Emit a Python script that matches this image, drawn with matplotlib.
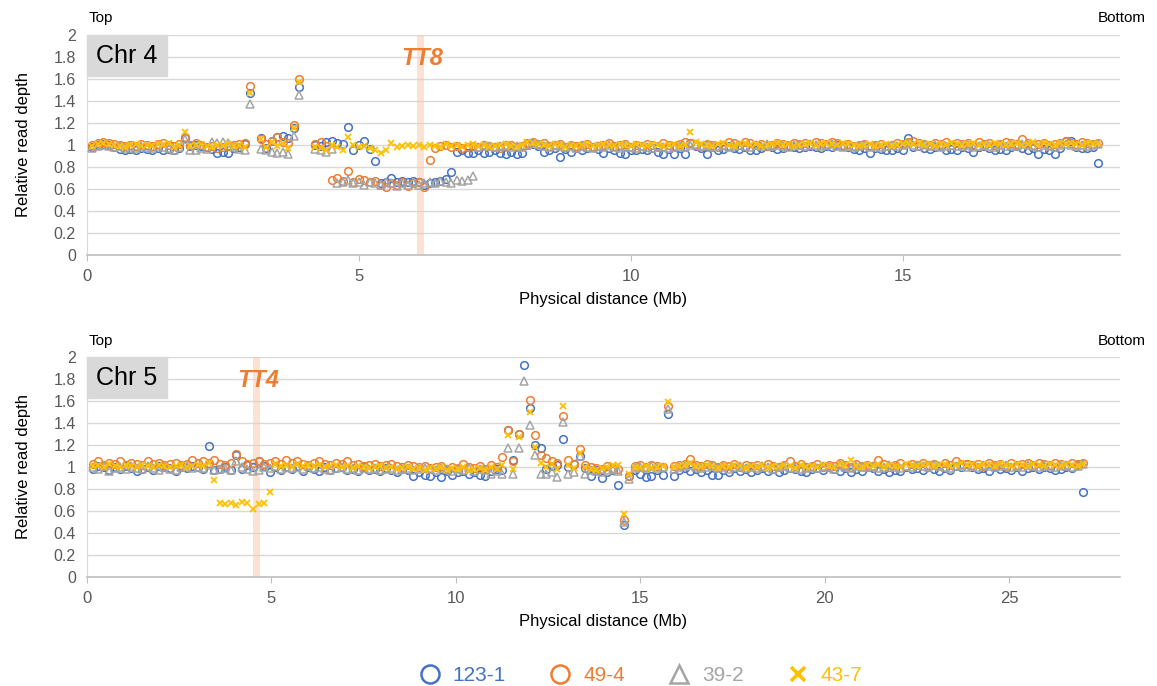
#imports
import matplotlib.pyplot as plt
import numpy as np
from matplotlib.lines import Line2D
from matplotlib.patches import Rectangle

plt.rcParams['font.family'] = ['Liberation Sans', 'DejaVu Sans']

#sample names and Excel style colours
names = ['123-1', '49-4', '39-2', '43-7']
colors = ['#4472C4', '#ED7D31', '#A5A5A5', '#FFC000']
markers = ['o', 'o', '^', 'x']

#---------------- Chr 4 (bin positions in Mb) ----------------
chr4_pos = [0.1, 0.2, 0.3, 0.4, 0.5, 0.6, 0.7, 0.8, 0.9, 1.0,
            1.1, 1.2, 1.3, 1.4, 1.5, 1.6, 1.7, 1.8, 1.9, 2.0,
            2.1, 2.2, 2.3, 2.4, 2.5, 2.6, 2.7, 2.8, 2.9, 3.0,
            3.1, 3.2, 3.3, 3.4, 3.5, 3.6, 3.7, 3.8, 3.9, 4.0,
            4.1, 4.2, 4.3, 4.4, 4.5, 4.6, 4.7, 4.8, 4.9, 5.0,
            5.1, 5.2, 5.3, 5.4, 5.5, 5.6, 5.7, 5.8, 5.9, 6.0,
            6.1, 6.2, 6.3, 6.4, 6.5, 6.6, 6.7, 6.8, 6.9, 7.0,
            7.1, 7.2, 7.3, 7.4, 7.5, 7.6, 7.7, 7.8, 7.9, 8.0,
            8.1, 8.2, 8.3, 8.4, 8.5, 8.6, 8.7, 8.8, 8.9, 9.0,
            9.1, 9.2, 9.3, 9.4, 9.5, 9.6, 9.7, 9.8, 9.9, 10.0,
            10.1, 10.2, 10.3, 10.4, 10.5, 10.6, 10.7, 10.8, 10.9, 11.0,
            11.1, 11.2, 11.3, 11.4, 11.5, 11.6, 11.7, 11.8, 11.9, 12.0,
            12.1, 12.2, 12.3, 12.4, 12.5, 12.6, 12.7, 12.8, 12.9, 13.0,
            13.1, 13.2, 13.3, 13.4, 13.5, 13.6, 13.7, 13.8, 13.9, 14.0,
            14.1, 14.2, 14.3, 14.4, 14.5, 14.6, 14.7, 14.8, 14.9, 15.0,
            15.1, 15.2, 15.3, 15.4, 15.5, 15.6, 15.7, 15.8, 15.9, 16.0,
            16.1, 16.2, 16.3, 16.4, 16.5, 16.6, 16.7, 16.8, 16.9, 17.0,
            17.1, 17.2, 17.3, 17.4, 17.5, 17.6, 17.7, 17.8, 17.9, 18.0,
            18.1, 18.2, 18.3, 18.4, 18.5, 18.6]

chr4_123_1 = [0.98, 1.00, 1.01, 1.00, 0.98, 0.96, 0.95, 0.96, 0.95, 0.97,
              0.96, 0.95, 0.97, 0.95, 0.96, 0.95, 0.97, 1.06, 0.99, 1.00,
              0.99, 0.98, 0.96, 0.93, 0.94, 0.93, 0.97, 0.98, 1.01, 1.47,
              None, 1.06, 0.97, 1.04, 1.07, 1.08, 1.06, 1.15, 1.53, None,
              None, 1.00, 0.99, 1.03, 1.04, 1.02, 1.01, 1.16, 0.95, 1.00,
              1.04, 0.96, 0.85, 0.65, 0.66, 0.70, 0.66, 0.67, 0.66, 0.67,
              0.66, 0.64, 0.65, 0.66, 0.67, 0.69, 0.75, 0.94, 0.95, 0.93,
              0.93, 0.95, 0.93, 0.94, 0.95, 0.93, 0.92, 0.94, 0.92, 0.93,
              1.00, 1.01, 0.99, 0.94, 0.95, 0.97, 0.89, 0.96, 0.94, 0.97,
              0.95, 0.97, 0.98, 0.96, 0.93, 0.97, 0.95, 0.93, 0.92, 0.95,
              0.95, 0.96, 0.95, 0.97, 0.94, 0.92, 0.96, 0.92, 0.97, 0.92,
              1.02, 0.99, 0.97, 0.92, 0.98, 0.95, 0.96, 0.99, 0.97, 0.96,
              0.98, 0.95, 0.95, 0.97, 0.99, 0.98, 0.96, 0.97, 0.99, 0.98,
              0.97, 0.98, 0.99, 0.98, 0.97, 0.99, 0.98, 1.00, 0.99, 0.98,
              0.96, 0.95, 0.97, 0.93, 0.97, 0.96, 0.95, 0.95, 0.97, 0.95,
              1.06, 0.98, 0.99, 0.97, 0.96, 0.98, 0.99, 0.95, 0.96, 0.95,
              0.98, 0.97, 0.94, 0.98, 0.99, 0.97, 0.95, 0.96, 0.95, 0.98,
              0.99, 0.97, 0.95, 0.97, 0.92, 0.96, 0.95, 0.92, 0.97, 1.04,
              1.04, 0.98, 0.97, 0.97, 0.98, 0.84]

chr4_49_4 = [1.00, 1.02, 1.03, 1.02, 1.01, 1.00, 0.99, 1.00, 0.99, 1.01,
             1.00, 0.99, 1.01, 1.02, 1.00, 0.99, 1.01, 1.07, 1.00, 1.02,
             1.00, 0.98, 0.99, 0.97, 0.98, 0.99, 1.00, 1.01, 1.02, 1.54,
             None, 1.05, 1.01, 1.04, 1.07, 1.03, 1.02, 1.18, 1.60, None,
             None, 1.01, 1.03, 0.99, 0.68, 0.70, 0.67, 0.76, 0.66, 0.69,
             0.68, 0.66, 0.67, 0.64, 0.62, 0.65, 0.64, 0.66, 0.63, 0.65,
             0.66, 0.62, 0.86, 0.97, 0.99, 1.00, 0.98, 0.99, 0.97, 0.98,
             0.99, 0.98, 1.00, 0.99, 0.98, 0.97, 0.99, 1.00, 0.98, 0.99,
             1.02, 1.03, 1.01, 1.02, 0.99, 1.00, 1.01, 0.98, 1.00, 0.99,
             1.00, 1.01, 0.98, 0.99, 1.00, 1.02, 0.99, 1.00, 1.01, 0.98,
             1.00, 0.99, 1.01, 1.00, 0.98, 1.02, 1.00, 0.99, 1.01, 1.03,
             1.02, 1.00, 0.99, 1.01, 1.00, 0.98, 1.00, 1.03, 1.02, 1.00,
             1.03, 1.02, 1.00, 1.01, 0.99, 1.00, 1.02, 1.01, 1.00, 1.02,
             1.01, 1.02, 1.00, 1.03, 1.02, 1.01, 1.03, 1.02, 1.00, 1.01,
             0.99, 1.00, 1.01, 0.99, 1.00, 1.01, 0.99, 1.00, 1.02, 1.01,
             1.03, 1.04, 1.02, 1.01, 1.00, 1.02, 1.01, 1.03, 1.00, 1.02,
             1.01, 1.02, 1.00, 1.03, 1.01, 1.02, 1.00, 1.01, 1.03, 1.02,
             1.01, 1.05, 1.02, 1.00, 1.01, 1.02, 1.00, 1.01, 1.02, 1.04,
             1.02, 1.01, 1.03, 1.02, 1.01, 1.02]

chr4_39_2 = [0.97, 0.99, 1.00, 0.99, 0.98, 0.99, 0.97, 0.98, 0.97, 0.99,
             0.98, 0.97, 0.99, 0.98, 0.97, 0.95, 0.98, 1.05, 0.95, 0.95,
             0.97, 0.96, 1.03, 1.02, 1.03, 1.02, 0.98, 0.96, 0.95, 1.37,
             None, 0.96, 0.95, 0.94, 0.93, 0.94, 0.92, 1.08, 1.45, None,
             None, 0.96, 0.95, 0.94, 0.96, 0.65, 0.66, 0.68, 0.65, 0.66,
             0.64, 0.66, 0.65, 0.64, 0.66, 0.65, 0.63, 0.65, 0.64, 0.66,
             0.64, 0.65, 0.66, 0.65, 0.67, 0.66, 0.65, 0.68, 0.67, 0.68,
             0.72, 0.98, 1.00, 0.99, 0.98, 0.99, 1.00, 0.98, 0.99, 0.98,
             1.00, 1.02, 1.01, 0.99, 0.98, 1.00, 0.99, 0.98, 0.99, 0.97,
             0.99, 0.98, 0.97, 0.99, 0.98, 1.00, 0.98, 0.97, 0.99, 0.98,
             0.97, 0.99, 0.98, 0.97, 0.99, 0.98, 0.97, 0.98, 0.99, 0.98,
             1.00, 1.01, 0.99, 1.00, 0.98, 0.99, 1.00, 0.98, 0.99, 1.00,
             0.99, 0.98, 1.00, 0.99, 1.01, 0.99, 1.00, 0.99, 0.98, 1.00,
             1.00, 0.99, 1.01, 1.00, 0.99, 1.00, 1.01, 0.99, 0.98, 0.99,
             0.98, 0.99, 1.00, 0.98, 0.99, 0.98, 0.99, 1.00, 0.99, 1.00,
             1.02, 1.00, 0.99, 1.01, 0.99, 1.00, 0.98, 0.99, 1.00, 0.99,
             0.99, 1.00, 0.98, 0.99, 1.00, 0.99, 0.98, 1.00, 0.99, 1.00,
             0.99, 1.01, 1.00, 0.99, 0.98, 1.00, 0.99, 0.98, 1.00, 1.01,
             1.00, 0.99, 1.00, 0.99, 1.00, 1.01]

chr4_43_7 = [0.99, 1.01, 1.02, 1.01, 1.00, 0.99, 0.98, 1.00, 1.01, 0.99,
             1.00, 0.99, 1.01, 1.00, 1.02, 0.98, 1.00, 1.12, 0.99, 1.00,
             1.01, 0.99, 0.98, 1.00, 0.99, 1.01, 0.99, 1.00, 0.98, 1.47,
             None, 1.05, 0.98, 1.03, 0.99, 1.02, 0.97, 1.15, 1.57, None,
             None, 0.98, 0.97, 0.95, 1.00, 0.98, 0.95, 1.07, 1.00, 0.98,
             0.99, 0.97, 0.95, 0.93, 0.95, 1.02, 0.98, 0.99, 1.00, 0.99,
             1.00, 0.98, 1.00, 0.99, 0.98, 1.01, 0.99, 1.00, 0.98, 1.00,
             1.01, 0.99, 1.00, 0.98, 0.99, 1.00, 1.01, 0.99, 0.98, 1.00,
             1.03, 1.02, 1.01, 1.00, 0.99, 1.01, 1.00, 0.98, 1.00, 0.99,
             1.00, 1.01, 0.99, 1.00, 1.01, 1.00, 0.99, 1.01, 1.00, 0.99,
             1.01, 1.00, 0.99, 1.01, 1.00, 0.99, 1.00, 1.01, 0.99, 1.00,
             1.12, 1.03, 1.01, 1.00, 0.99, 1.01, 1.02, 1.00, 0.99, 1.01,
             1.02, 1.00, 1.01, 0.99, 1.00, 1.01, 1.02, 1.00, 1.01, 0.99,
             1.00, 1.01, 1.02, 1.00, 1.01, 1.02, 1.01, 1.00, 1.02, 1.01,
             1.00, 0.99, 1.00, 1.01, 0.99, 1.00, 1.01, 0.99, 1.00, 1.01,
             1.02, 1.01, 1.02, 1.00, 1.01, 0.99, 1.01, 1.00, 1.02, 1.01,
             1.00, 1.01, 1.02, 1.00, 1.01, 1.00, 1.02, 1.01, 1.00, 1.01,
             1.02, 1.00, 1.01, 1.03, 1.00, 1.02, 1.01, 1.00, 1.02, 1.01,
             1.02, 1.01, 1.00, 1.02, 1.01, 1.02]

#---------------- Chr 5 (bin positions in Mb) ----------------
chr5_pos = [0.15, 0.30, 0.45, 0.60, 0.75, 0.90, 1.05, 1.20, 1.35, 1.50,
            1.65, 1.80, 1.95, 2.10, 2.25, 2.40, 2.55, 2.70, 2.85, 3.00,
            3.15, 3.30, 3.45, 3.60, 3.75, 3.90, 4.05, 4.20, 4.35, 4.50,
            4.65, 4.80, 4.95, 5.10, 5.25, 5.40, 5.55, 5.70, 5.85, 6.00,
            6.15, 6.30, 6.45, 6.60, 6.75, 6.90, 7.05, 7.20, 7.35, 7.50,
            7.65, 7.80, 7.95, 8.10, 8.25, 8.40, 8.55, 8.70, 8.85, 9.00,
            9.15, 9.30, 9.45, 9.60, 9.75, 9.90, 10.05, 10.20, 10.35, 10.50,
            10.65, 10.80, 10.95, 11.10, 11.25, 11.40, 11.55, 11.70, 11.85, 12.00,
            12.15, 12.30, 12.45, 12.60, 12.75, 12.90, 13.05, 13.20, 13.35, 13.50,
            13.65, 13.80, 13.95, 14.10, 14.25, 14.40, 14.55, 14.70, 14.85, 15.00,
            15.15, 15.30, 15.45, 15.60, 15.75, 15.90, 16.05, 16.20, 16.35, 16.50,
            16.65, 16.80, 16.95, 17.10, 17.25, 17.40, 17.55, 17.70, 17.85, 18.00,
            18.15, 18.30, 18.45, 18.60, 18.75, 18.90, 19.05, 19.20, 19.35, 19.50,
            19.65, 19.80, 19.95, 20.10, 20.25, 20.40, 20.55, 20.70, 20.85, 21.00,
            21.15, 21.30, 21.45, 21.60, 21.75, 21.90, 22.05, 22.20, 22.35, 22.50,
            22.65, 22.80, 22.95, 23.10, 23.25, 23.40, 23.55, 23.70, 23.85, 24.00,
            24.15, 24.30, 24.45, 24.60, 24.75, 24.90, 25.05, 25.20, 25.35, 25.50,
            25.65, 25.80, 25.95, 26.10, 26.25, 26.40, 26.55, 26.70, 26.85, 27.00]

chr5_123_1 = [0.98, 1.01, 1.00, 0.97, 1.00, 0.98, 1.01, 0.99, 0.96, 0.98,
              1.00, 0.97, 1.01, 1.00, 0.99, 0.96, 1.00, 0.99, 1.01, 1.00,
              0.98, 1.19, 0.97, 0.98, 1.00, 0.97, 1.11, 0.98, 1.02, 1.00,
              1.05, 1.01, 0.95, 1.00, 0.97, 1.00, 0.98, 1.01, 0.96, 1.00,
              0.98, 0.96, 1.00, 0.97, 0.99, 1.00, 0.97, 0.98, 0.96, 1.00,
              0.97, 0.98, 0.96, 0.99, 0.97, 0.95, 0.98, 0.97, 0.92, 0.95,
              0.93, 0.92, 0.95, 0.91, 0.96, 0.93, 0.95, 0.96, 0.94, 0.95,
              0.93, 0.92, 0.96, 0.98, 0.97, 1.34, 1.06, 1.30, 1.93, 1.54,
              1.20, 1.17, 0.98, 1.01, 1.02, 1.25, 1.00, 1.03, 1.10, 0.99,
              0.92, 0.97, 0.90, 0.95, 0.97, 0.84, 0.47, 0.92, 0.97, 0.94,
              0.91, 0.92, 0.97, 0.93, 1.48, 0.92, 0.97, 0.99, 0.96, 0.98,
              0.95, 0.97, 0.93, 0.93, 0.97, 0.95, 0.99, 0.96, 0.98, 0.95,
              0.97, 0.99, 0.96, 0.98, 0.95, 0.97, 0.99, 0.98, 0.96, 0.95,
              0.98, 0.99, 0.97, 1.00, 0.98, 0.96, 0.99, 0.95, 0.98, 0.96,
              1.00, 0.99, 0.96, 0.98, 0.95, 0.97, 0.96, 1.00, 0.98, 0.99,
              0.97, 1.00, 0.98, 0.96, 0.99, 0.97, 1.01, 1.00, 1.03, 1.00,
              0.98, 0.99, 0.96, 1.00, 0.98, 0.99, 0.97, 1.00, 0.96, 0.99,
              1.00, 0.98, 1.00, 0.99, 0.97, 0.98, 1.00, 0.99, 1.02, 0.77]

chr5_49_4 = [1.03, 1.05, 1.02, 1.04, 1.03, 1.05, 1.02, 1.04, 1.03, 1.02,
             1.05, 1.03, 1.04, 1.02, 1.03, 1.04, 1.02, 1.03, 1.06, 1.04,
             1.05, 1.04, 1.06, 1.03, 1.02, 1.04, 1.12, 1.05, 1.03, 1.04,
             1.05, 1.03, 1.04, 1.05, 1.03, 1.06, 1.04, 1.05, 1.03, 1.02,
             1.04, 1.05, 1.03, 1.02, 1.04, 1.03, 1.05, 1.02, 1.03, 1.01,
             1.02, 1.03, 1.01, 1.02, 1.03, 1.01, 1.00, 1.02, 1.01, 1.00,
             1.01, 0.99, 1.00, 1.01, 0.98, 1.00, 0.99, 1.03, 1.00, 0.99,
             1.01, 0.98, 1.02, 1.00, 1.09, 1.34, 1.05, 1.30, None, 1.61,
             1.29, 1.11, 1.08, 1.05, 1.04, 1.46, 1.06, 1.03, 1.16, 1.02,
             1.00, 0.99, 0.98, 1.01, 0.99, 0.98, 0.52, 0.92, 1.01, 1.02,
             1.00, 1.02, 1.01, 1.00, 1.55, 1.01, 1.02, 1.03, 1.07, 1.02,
             1.01, 1.03, 1.02, 1.00, 1.02, 1.01, 1.03, 1.00, 1.02, 1.01,
             1.02, 1.00, 1.03, 1.01, 1.00, 1.02, 1.05, 1.01, 1.03, 1.00,
             1.01, 1.03, 1.00, 1.02, 1.01, 1.04, 1.02, 1.00, 1.03, 1.01,
             1.02, 1.01, 1.06, 1.03, 1.00, 1.02, 1.04, 1.01, 1.03, 1.02,
             1.04, 1.02, 1.03, 1.01, 1.04, 1.02, 1.05, 1.03, 1.03, 1.02,
             1.03, 1.01, 1.04, 1.02, 1.03, 1.01, 1.04, 1.02, 1.03, 1.04,
             1.02, 1.04, 1.03, 1.02, 1.04, 1.03, 1.02, 1.04, 1.03, 1.04]

chr5_39_2 = [1.00, 0.98, 1.01, 0.96, 0.99, 1.00, 0.98, 1.01, 0.99, 0.98,
             1.01, 0.99, 0.97, 1.00, 0.98, 0.97, 1.00, 1.01, 0.99, 1.00,
             0.99, 1.02, 0.97, 0.98, 0.99, 0.97, 1.05, 1.00, 0.98, 0.96,
             0.97, 1.00, 0.99, 1.01, 0.98, 1.00, 0.99, 1.00, 0.98, 1.01,
             0.99, 1.00, 0.98, 0.97, 0.99, 1.00, 0.98, 0.99, 0.97, 0.99,
             0.98, 0.99, 0.97, 0.98, 0.99, 0.97, 0.98, 0.99, 0.97, 0.98,
             0.99, 0.98, 0.97, 0.99, 0.98, 0.96, 0.98, 0.97, 0.99, 0.96,
             0.98, 0.97, 0.94, 0.96, 0.94, 1.17, 0.94, 1.17, 1.78, 1.38,
             1.11, 0.94, 0.94, 0.95, 0.91, 1.41, 0.94, 0.95, 1.10, 0.94,
             0.97, 0.96, 0.95, 0.97, 0.98, 0.96, 0.50, 0.89, 0.99, 1.00,
             0.99, 1.01, 0.99, 1.00, 1.53, 0.98, 1.00, 1.01, 1.02, 1.00,
             0.99, 1.00, 1.01, 0.99, 1.00, 0.98, 1.00, 1.01, 0.99, 1.00,
             0.99, 1.01, 1.00, 0.98, 1.00, 1.01, 0.99, 1.00, 0.98, 0.99,
             1.00, 0.99, 1.01, 1.00, 0.98, 1.02, 1.00, 0.99, 1.01, 1.00,
             1.00, 1.01, 0.99, 1.00, 1.02, 1.00, 0.99, 1.01, 1.00, 1.02,
             1.01, 1.00, 1.02, 1.01, 1.00, 0.99, 1.01, 1.02, 1.00, 1.01,
             1.00, 1.02, 1.01, 1.00, 1.01, 1.02, 1.00, 1.01, 1.00, 1.02,
             1.01, 1.00, 1.02, 1.01, 1.00, 1.01, 1.02, 1.00, 1.01, 1.03]

chr5_43_7 = [1.01, 1.02, 1.00, 1.03, 1.01, 1.00, 1.02, 1.01, 1.00, 1.02,
             1.01, 1.00, 1.02, 1.01, 1.00, 1.01, 1.02, 1.00, 1.01, 1.02,
             1.01, 1.04, 0.88, 0.67, 0.66, 0.67, 0.65, 0.68, 0.67, 0.62,
             0.66, 0.67, 0.77, 1.03, 1.01, 1.02, 1.00, 1.03, 1.01, 1.02,
             1.01, 1.02, 1.00, 1.01, 1.02, 1.00, 1.01, 0.99, 1.01, 1.00,
             0.99, 1.00, 1.01, 0.99, 1.00, 0.98, 0.99, 1.00, 0.98, 0.99,
             0.97, 0.99, 0.98, 1.00, 0.97, 0.99, 0.98, 1.00, 0.97, 0.98,
             0.99, 0.97, 1.00, 0.98, 1.02, 1.29, 0.98, 1.27, None, 1.50,
             1.18, 1.04, 1.00, 1.03, 0.98, 1.55, 1.02, 0.99, 1.13, 1.00,
             0.98, 0.97, 0.99, 1.00, 1.02, 1.02, 0.57, 0.94, 1.00, 0.99,
             1.01, 0.99, 1.00, 1.01, 1.59, 1.00, 1.01, 1.02, 1.04, 1.01,
             1.00, 1.02, 1.01, 0.99, 1.01, 1.00, 1.02, 1.01, 0.99, 1.01,
             1.00, 1.02, 0.99, 1.01, 1.00, 1.02, 1.01, 0.99, 1.02, 1.00,
             1.01, 1.00, 1.02, 1.01, 1.00, 1.03, 1.02, 1.06, 1.01, 1.00,
             1.02, 1.01, 1.03, 1.00, 1.02, 1.01, 1.00, 1.03, 1.02, 1.01,
             1.02, 1.03, 1.01, 1.02, 1.03, 1.01, 1.02, 1.04, 1.02, 1.03,
             1.01, 1.03, 1.02, 1.01, 1.03, 1.02, 1.01, 1.03, 1.02, 1.01,
             1.03, 1.02, 1.01, 1.03, 1.02, 1.01, 1.03, 1.02, 1.01, 1.03]

#y tick labels like Excel's general number format
ytick_vals = [0, 0.2, 0.4, 0.6, 0.8, 1.0, 1.2, 1.4, 1.6, 1.8, 2.0]
ytick_text = ['0', '0.2', '0.4', '0.6', '0.8', '1', '1.2', '1.4', '1.6', '1.8', '2']


#function that draws one chromosome panel
def draw_chr(ax, pos, series, chr_name, gene, gene_span, xmax, xticks):
    #gene position band
    ax.axvspan(gene_span[0], gene_span[1], color='#F8CBAD', alpha=0.55, lw=0, zorder=1)

    for vals, c, m in zip(series, colors, markers):
        y = np.array(vals, dtype=float)
        if m == 'x':
            ax.plot(pos, y, ls='none', marker='x', ms=5, mew=1.3, color=c, zorder=3)
        else:
            ax.plot(pos, y, ls='none', marker=m, ms=5.5, mfc='none', mec=c, mew=1.1, zorder=3)

    ax.set_xlim(0, xmax)
    ax.set_ylim(0, 2)
    ax.set_xticks(xticks)
    ax.set_yticks(ytick_vals)
    ax.set_yticklabels(ytick_text)
    ax.yaxis.grid(True, color='#D9D9D9', lw=1, zorder=0)
    ax.set_axisbelow(True)
    for s in ['top', 'right']:
        ax.spines[s].set_visible(False)
    ax.spines['left'].set_color('#D9D9D9')
    ax.spines['bottom'].set_color('#BFBFBF')
    ax.spines['bottom'].set_linewidth(1.2)
    ax.tick_params(axis='y', length=0, labelsize=11.5, labelcolor='#595959', pad=8)
    ax.tick_params(axis='x', length=4, color='#BFBFBF', labelsize=12, labelcolor='#595959', pad=6)
    ax.set_xlabel('Physical distance (Mb)', fontsize=12, labelpad=6)
    ax.set_ylabel('Relative read depth', fontsize=12, labelpad=16)

    #grey chromosome label box in the corner
    ax.add_patch(Rectangle((0, 0.815), 0.077, 0.185, transform=ax.transAxes,
                           color='#D9D9D9', zorder=4, clip_on=False))
    ax.text(0.0385, 0.905, chr_name, transform=ax.transAxes, ha='center', va='center',
            fontsize=18, zorder=5)

    #gene name
    ax.text(np.mean(gene_span) + 0.04 * xmax / 19, 1.79, gene, color='#ED7D31', fontsize=17,
            fontweight='bold', fontstyle='italic', ha='center', va='center', zorder=5)


fig = plt.figure(figsize=(11.57, 6.86), dpi=100)
ax4 = fig.add_axes([0.0752, 0.6283, 0.8928, 0.3207])
ax5 = fig.add_axes([0.0752, 0.1589, 0.8928, 0.3207])

draw_chr(ax4, chr4_pos, [chr4_123_1, chr4_49_4, chr4_39_2, chr4_43_7],
         'Chr 4', 'TT8', (6.07, 6.19), 19.0, [0, 5, 10, 15])
draw_chr(ax5, chr5_pos, [chr5_123_1, chr5_49_4, chr5_39_2, chr5_43_7],
         'Chr 5', 'TT4', (4.49, 4.68), 28.0, [0, 5, 10, 15, 20, 25])

#Top / Bottom orientation labels
for y in [0.974, 0.503]:
    fig.text(0.077, y, 'Top', fontsize=11, ha='left', va='center')
    fig.text(0.99, y, 'Bottom', fontsize=11, ha='right', va='center')

#legend at the bottom
handles = []
for c, m in zip(colors, markers):
    if m == 'x':
        handles.append(Line2D([], [], ls='none', marker='x', ms=10, mew=2.6, color=c))
    else:
        handles.append(Line2D([], [], ls='none', marker=m, ms=13, mfc='none', mec=c, mew=1.8))
fig.legend(handles, names, loc='center', bbox_to_anchor=(0.553, 0.0146), ncol=4,
           frameon=False, fontsize=15, handlelength=1.2, handletextpad=0.5,
           columnspacing=2.0, labelcolor=colors)

fig.savefig('out.png', dpi=100)
